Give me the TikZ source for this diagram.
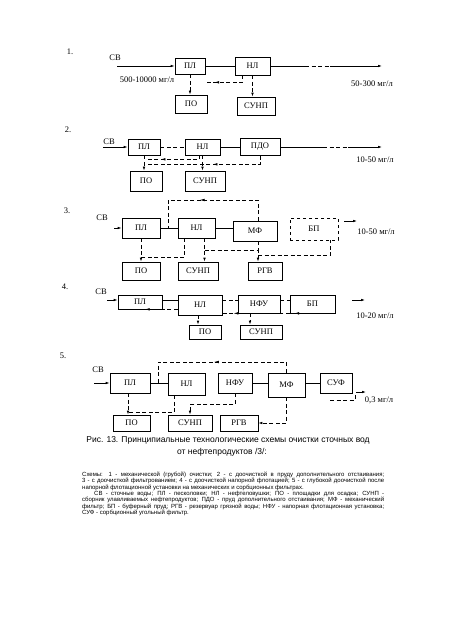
\documentclass[tikz,border=0pt]{standalone}
\usepackage{fontspec}
\setmainfont{Liberation Serif}
\newfontfamily\capfont{Liberation Sans}
\usetikzlibrary{arrows.meta,calc,decorations.markings}
\begin{document}
\begin{tikzpicture}[x=1pt,y=-1pt,
  blk/.style={draw,line width=0.7pt,inner sep=0pt,font=\fontsize{8.5}{9}\selectfont},
  sz/.style 2 args={minimum width=#1pt,minimum height=#2pt},
  ln/.style={line width=0.7pt},
  dl/.style={line width=0.7pt,dash pattern=on 4pt off 2.5pt},
  ar/.style={-{Latex[length=4pt,width=2.6pt]}},
  midarr/.style={postaction={decorate,decoration={markings,mark=at position #1 with {\arrow{Latex[length=5pt,width=2.6pt]}}}}},
  lbl/.style={font=\fontsize{8.5}{9}\selectfont,inner sep=0pt},
  ]
\useasboundingbox (0,0) rectangle (450,636);

% ---------------- Scheme 1
\node[lbl] (n1) at (70,52) {1.};
\node[lbl] (sv1) at (115,58) {СВ};
\coordinate (in1) at (117,66);
\node[blk,sz={30}{16}] (pl1) at (190,66) {ПЛ};
\node[blk,sz={35}{18}] (nl1) at (252.5,66) {НЛ};
\node[blk,sz={32}{18}] (po1) at (191,104) {ПО};
\node[blk,sz={38}{18}] (sunp1) at (256,106) {СУНП};
\node[lbl] (c1) at (147,80) {500-10000 мг/л};
\node[lbl] (out1) at (372,84) {50-300 мг/л};
\coordinate (o1a) at (305,66);
\coordinate (o1b) at (330,66);
\coordinate (o1c) at (382,66);
\draw[ln,ar] (in1) -- (pl1.west);
\draw[ln] (pl1.east) -- (nl1.west);
\draw[ln] (nl1.east) -- (o1a);
\draw[dl] (o1a) -- (o1b);
\draw[ln,ar] (o1b) -- (o1c);
\draw[dl,ar] (pl1.south) -- (pl1.south |- po1.north);
\draw[dl,midarr=0.8] ($(nl1.south west)+(8,0)$) |- ($(pl1.south east)+(0,8)$);
\draw[dl,ar] (nl1.south) -- (nl1.south |- sunp1.north);

% ---------------- Scheme 2
\node[lbl] (n2) at (68,130) {2.};
\node[lbl] (sv2) at (109,142) {СВ};
\coordinate (in2) at (103,147);
\node[blk,sz={32}{16}] (pl2) at (144,147) {ПЛ};
\node[blk,sz={35}{16}] (nl2) at (202.5,147) {НЛ};
\node[blk,sz={40}{17}] (pdo2) at (260,147) {ПДО};
\node[blk,sz={32}{20}] (po2) at (146,181) {ПО};
\node[blk,sz={40}{20}] (sunp2) at (205,181) {СУНП};
\node[lbl] (out2) at (375,160) {10-50 мг/л};
\coordinate (o2a) at (323,147);
\coordinate (o2b) at (348,147);
\coordinate (o2c) at (382,147);
\draw[ln,ar] (in2) -- (pl2.west);
\draw[dl] (pl2.east) -- (nl2.west);
\draw[ln] (nl2.east) -- (pdo2.west);
\draw[ln] (pdo2.east) -- (o2a);
\draw[dl] (o2a) -- (o2b);
\draw[ln,ar] (o2b) -- (o2c);
\draw[dl,ar] (pl2.south) -- (pl2.south |- po2.north);
\draw[dl,midarr=0.75] ($(nl2.south)+(-3,0)$) |- ($(pl2.south)+(2,4)$);
\draw[dl,midarr=0.45] (pdo2.south) |- ($(pl2.south)+(0,9)$);
\draw[dl,ar] (nl2.south) -- (nl2.south |- sunp2.north);

% ---------------- Scheme 3
\node[lbl] (n3) at (67,211) {3.};
\node[lbl] (sv3) at (102,218) {СВ};
\coordinate (in3) at (114,228);
\node[blk,sz={38}{20}] (pl3) at (141,228) {ПЛ};
\node[blk,sz={37}{20}] (nl3) at (196.5,228) {НЛ};
\node[blk,sz={44}{20}] (mf3) at (255,231) {МФ};
\node[blk,dashed,sz={48}{22}] (bp3) at (314,229) {БП};
\node[blk,sz={38}{18}] (po3) at (141,271) {ПО};
\node[blk,sz={40}{18}] (sunp3) at (198,271) {СУНП};
\node[blk,sz={34}{18}] (rgv3) at (265,271) {РГВ};
\node[lbl] (out3) at (376,232) {10-50 мг/л};
\coordinate (o3a) at (344,221);
\coordinate (o3b) at (357,221);
\coordinate (t3) at (168,200);
\coordinate (j3) at (168,228);
\draw[ln,ar] (in3) -- (pl3.west);
\draw[ln] (pl3.east) -- (nl3.west);
\draw[ln] (nl3.east) -- (nl3.east -| mf3.west);
\draw[ln,ar] (o3a) -- (o3b);
\draw[dl,midarr=0.57] ($(mf3.north)+(3,0)$) |- (t3) -- (j3);
\draw[dl,ar] (pl3.south) -- (pl3.south |- po3.north);
\draw[dl] ($(nl3.south west)+(7,0)$) |- ($(pl3.south)+(0,19)$);
\draw[dl,ar] ($(nl3.south)+(8,0)$) -- ($(sunp3.north)+(6.5,0)$);
\draw[dl,ar] ($(nl3.south)+(8,12)$) -| ($(rgv3.north)+(-7,0)$);
\draw[dl] ($(mf3.south)+(3,0)$) -- ($(mf3.south)+(3,9)$);
\draw[dl] ($(mf3.south)+(3,14)$) -| ($(bp3.south east)+(-8,0)$);

% ---------------- Scheme 4
\node[lbl] (n4) at (65,287) {4.};
\node[lbl] (sv4) at (101,292) {СВ};
\coordinate (in4) at (107,300);
\node[blk,sz={44}{14}] (pl4) at (140,302) {ПЛ};
\node[blk,sz={44}{20}] (nl4) at (200,305) {НЛ};
\node[blk,sz={42}{18}] (nfu4) at (259,304) {НФУ};
\node[blk,sz={45}{18}] (bp4) at (312.5,304) {БП};
\node[blk,sz={32}{14}] (po4) at (205,332) {ПО};
\node[blk,sz={42}{14}] (sunp4) at (261,332) {СУНП};
\node[lbl] (out4) at (375,316) {10-20 мг/л};
\coordinate (o4a) at (352,300);
\coordinate (o4b) at (365,300);
\draw[ln,ar] (in4) -- (in4 -| pl4.west);
\draw[ln] (pl4.east |- in4) -- (nl4.west |- in4);
\draw[dl] (nl4.east |- in4) -- (nfu4.west |- in4);
\draw[dl] (nfu4.east |- in4) -- (bp4.west |- in4);
\draw[ln,ar] (o4a) -- (o4b);
\draw[dl,midarr=0.55] (nl4.west |- pl4.south) -- (pl4.south west);
\draw[dl,ar] ($(nl4.south)+(-2,0)$) -- ($(po4.north)+(-7,0)$);
\draw[dl,midarr=0.7] (nfu4.south) -- (nl4.east |- nfu4.south);
\draw[dl,ar] ($(nfu4.south)+(-9,0)$) -- ($(sunp4.north)+(-11,0)$);
\draw[dl,midarr=0.75] (bp4.south east) -- (nfu4.south east);

% ---------------- Scheme 5
\node[lbl] (n5) at (63,356) {5.};
\node[lbl] (sv5) at (98,370) {СВ};
\coordinate (in5) at (94,383);
\node[blk,sz={40}{20}] (pl5) at (130,383) {ПЛ};
\node[blk,sz={37}{22}] (nl5) at (186.5,384) {НЛ};
\node[blk,sz={34}{20}] (nfu5) at (235,383) {НФУ};
\node[blk,sz={37}{24}] (mf5) at (286.5,385) {МФ};
\node[blk,sz={32}{20}] (suf5) at (336,383) {СУФ};
\node[blk,sz={37}{16}] (po5) at (131.5,423) {ПО};
\node[blk,sz={44}{16}] (sunp5) at (190,423) {СУНП};
\node[blk,sz={38}{16}] (rgv5) at (239,423) {РГВ};
\node[lbl] (out5) at (379,400) {0,3 мг/л};
\coordinate (o5a) at (330,400);
\coordinate (o5b) at (355,400);
\coordinate (o5c) at (356,392);
\coordinate (o5d) at (366,392);
\coordinate (t5) at (158,362);
\coordinate (j5) at (158,383);
\draw[ln,ar] (in5) -- (pl5.west);
\draw[ln] (pl5.east) -- (pl5.east -| nl5.west);
\draw[ln] (nfu5.east) -- (nfu5.east -| mf5.west);
\draw[ln] (mf5.east |- nfu5.east) -- (suf5.west);
\draw[dl] (o5a) -- (o5b) -- ++(0,-6);
\draw[ln,ar] (o5c) -- (o5d);
\draw[dl,midarr=0.52] (mf5.north) |- (t5) -- (j5);
\draw[dl,ar] ($(pl5.south)+(-2,0)$) -- ($(po5.north)+(-3.5,0)$);
\draw[dl] ($(nl5.south)+(-12,0)$) |- ($(pl5.south)+(-2,19)$);
\draw[dl,ar] (nfu5.south) |- ($(sunp5.north)+(0,-10)$) -- (sunp5.north);
\draw[dl,ar] (mf5.south) |- (rgv5.east);

% ---------------- Caption and notes
\node[font=\capfont\fontsize{8.5}{10}\selectfont,inner sep=0pt] (cap1) at (228,440)
  {Рис. 13. Принципиальные технологические схемы очистки сточных вод};
\node[font=\capfont\fontsize{8.5}{10}\selectfont,inner sep=0pt] (cap2) at (222,452)
  {от нефтепродуктов /3/:};
\node[anchor=north west,inner sep=0pt,text width=302pt,align=justify,
      font=\capfont\fontsize{6.0}{6.3}\selectfont] (notes) at (82,472)
  {Схемы: 1 - механической (грубой) очистки; 2 - с доочисткой в пруду дополнительного отстаивания;\linebreak
   3 - с доочисткой фильтрованием; 4 - с доочисткой напорной флотацией; 5 - с глубокой доочисткой после\linebreak
   напорной флотационной установки на механических и сорбционных фильтрах.\par
   \hspace*{12pt}СВ - сточные воды; ПЛ - песколовки; НЛ - нефтеловушки; ПО - площадки для осадка; СУНП -\linebreak
   сборник улавливаемых нефтепродуктов; ПДО - пруд дополнительного отстаивания; МФ - механический\linebreak
   фильтр; БП - буферный пруд; РГВ - резервуар грязной воды; НФУ - напорная флотационная установка;\linebreak
   СУФ - сорбционный угольный фильтр.};
\end{tikzpicture}
\end{document}
